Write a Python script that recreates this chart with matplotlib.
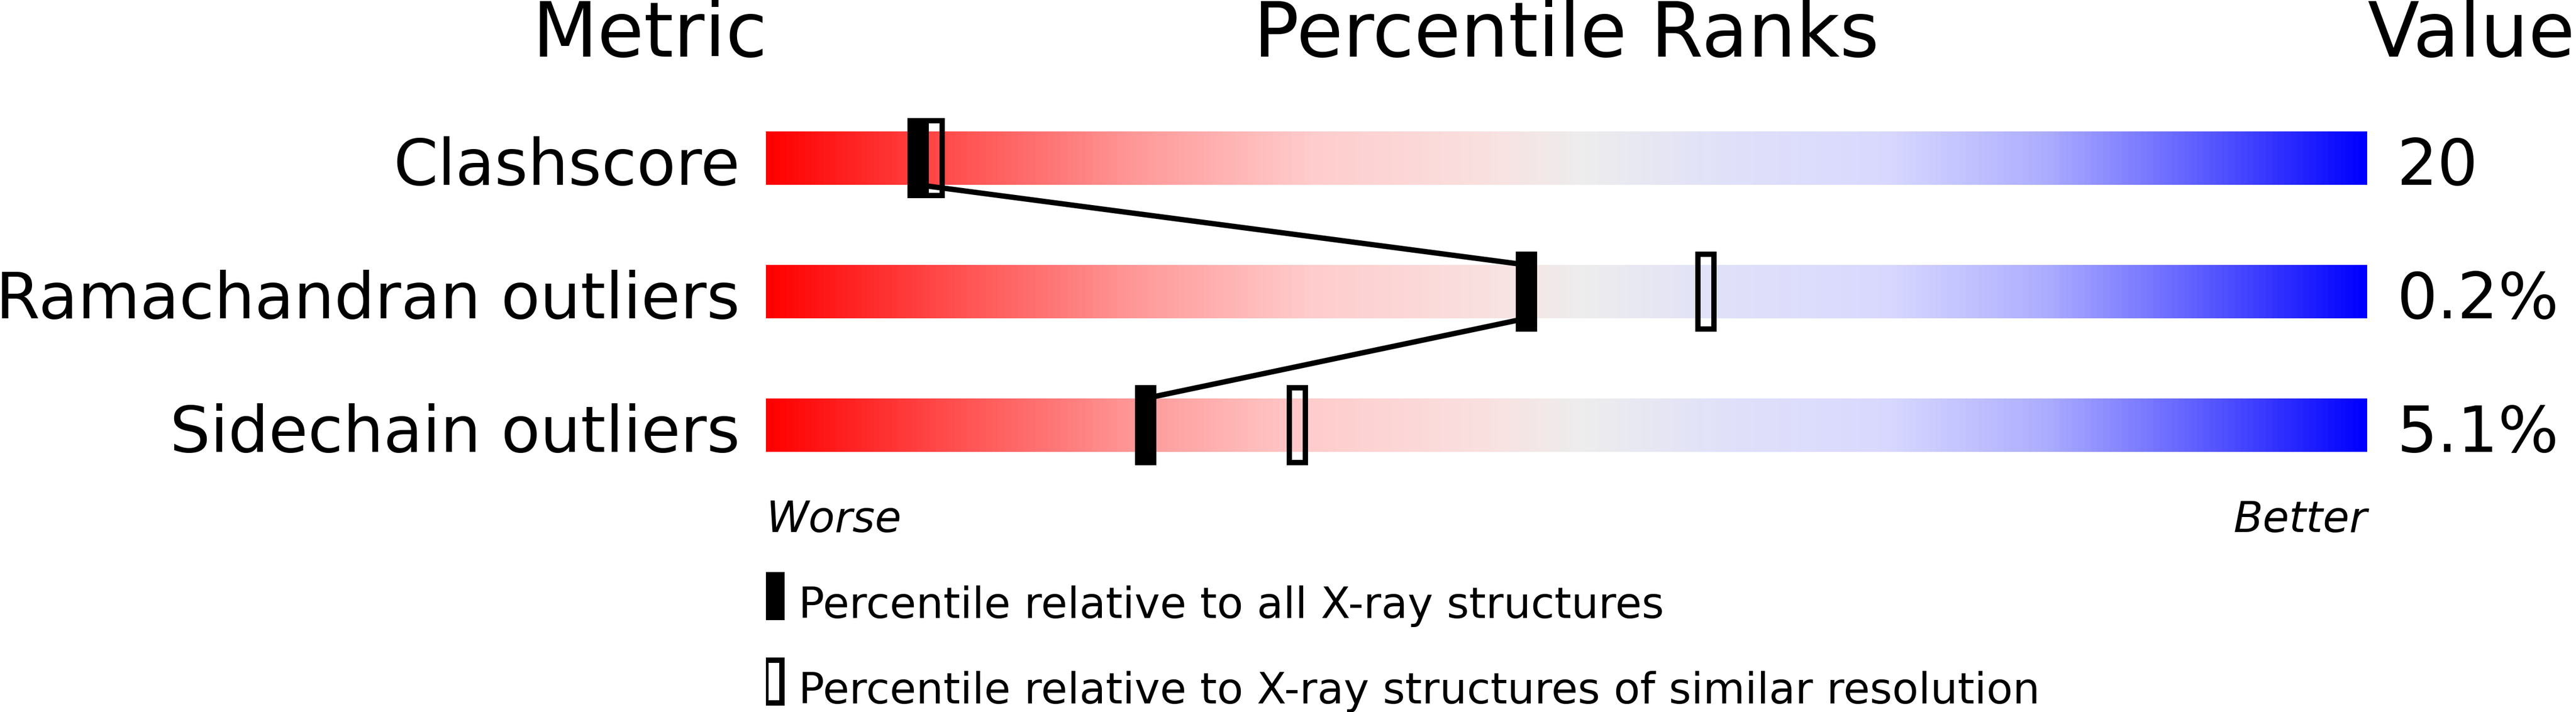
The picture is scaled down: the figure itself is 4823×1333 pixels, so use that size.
import numpy as np
import matplotlib
matplotlib.use("Agg")
import matplotlib.pyplot as plt
from matplotlib.colors import LinearSegmentedColormap
from matplotlib.patches import Rectangle

# ---- data ----
metrics = ["Clashscore", "Ramachandran outliers", "Sidechain outliers"]
values = ["20", "0.2%", "5.1%"]
pct_all = [9.5, 47.5, 23.7]      # percentile relative to all X-ray structures
pct_res = [10.5, 58.7, 33.2]     # percentile relative to similar resolution
legend_labels = ["Percentile relative to all X-ray structures",
                 "Percentile relative to X-ray structures of similar resolution"]
headers = ["Metric", "Percentile Ranks", "Value"]

plt.rcParams['font.family'] = ['DejaVu Sans']

W, H, DPI = 4823, 1333, 100
fig = plt.figure(figsize=(W / DPI, H / DPI), dpi=DPI)
bar_left, bar_right = 1434, 4432
ax = fig.add_axes([bar_left / W, 0, (bar_right - bar_left) / W, 1])
ax.set_axis_off()

px = 100.0 / (bar_right - bar_left)   # data units per pixel in x

cmap = LinearSegmentedColormap.from_list("slider", [
    (0.00, (1.00, 0.00, 0.00)),
    (0.12, (1.00, 0.32, 0.32)),
    (0.23, (1.00, 0.60, 0.60)),
    (0.34, (1.00, 0.80, 0.80)),
    (0.45, (0.98, 0.88, 0.88)),
    (0.51, (0.93, 0.93, 0.93)),
    (0.60, (0.88, 0.88, 0.98)),
    (0.70, (0.85, 0.85, 1.00)),
    (0.80, (0.68, 0.68, 1.00)),
    (0.90, (0.36, 0.36, 1.00)),
    (1.00, (0.00, 0.00, 1.00)),
])
grad = np.linspace(0, 1, 512).reshape(1, -1)

row_top = [246, 496, 746]
bar_h = 100
lw_pt = 10 * 72 / DPI

for i, name in enumerate(metrics):
    top = row_top[i]
    bot = top + bar_h
    ax.imshow(grad, cmap=cmap, extent=[0, 100, bot, top], aspect='auto',
              interpolation='bilinear', zorder=1)
    ax.text(-1.63, bot, name, ha='right', va='baseline', fontsize=86)
    ax.text(101.85, bot, values[i], ha='left', va='baseline', fontsize=86)

# connecting lines between "all" markers
for i in range(len(metrics) - 1):
    ax.plot([pct_all[i], pct_all[i + 1]],
            [row_top[i] + bar_h, row_top[i + 1]],
            color='black', lw=lw_pt, solid_capstyle='butt', zorder=2)

for i in range(len(metrics)):
    top = row_top[i]
    ax.add_patch(Rectangle((pct_all[i] - 20 * px, top - 25), 40 * px, 150,
                           facecolor='black', edgecolor='none', zorder=3))
    ax.add_patch(Rectangle((pct_res[i] - 15 * px, top - 20), 30 * px, 140,
                           fill=False, edgecolor='black', lw=lw_pt,
                           joinstyle='miter', zorder=4))

# headers
ax.text(0.1, 106, headers[0], ha='right', va='baseline', fontsize=102)
ax.text(50, 106, headers[1], ha='center', va='baseline', fontsize=102)
ax.text(100.03, 106, headers[2], ha='left', va='baseline', fontsize=102)

ax.text(0, 996, "Worse", ha='left', va='baseline', fontsize=58, style='italic')
ax.text(100, 996, "Better", ha='right', va='baseline', fontsize=58, style='italic')

# legend
ax.add_patch(Rectangle((-5 * px, 1071), 40 * px, 90, facecolor='black',
                       edgecolor='none'))
ax.add_patch(Rectangle((0, 1236), 30 * px, 80, fill=False, edgecolor='black',
                       lw=lw_pt, joinstyle='miter'))
ax.text(61 * px, 1157, legend_labels[0], ha='left', va='baseline', fontsize=58)
ax.text(61 * px, 1317, legend_labels[1], ha='left', va='baseline', fontsize=58)

ax.set_xlim(0, 100)
ax.set_ylim(H, 0)

fig.savefig("out.png", dpi=DPI, facecolor='white')
